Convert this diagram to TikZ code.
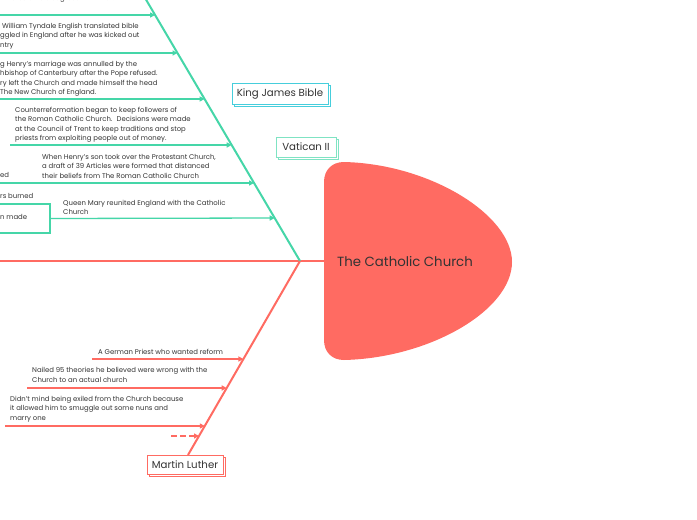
\documentclass[tikz,border=0pt]{standalone}
\usepackage{fontspec}
\setmainfont{Poppins}
\usetikzlibrary{arrows.meta,shadows}
\definecolor{fgreen}{HTML}{45D6A8}
\definecolor{fred}{HTML}{FF6B62}
\definecolor{fcyan}{HTML}{46CEDC}
\definecolor{fmint}{HTML}{7FE3C3}
\definecolor{ftext}{HTML}{333333}
\begin{document}
\begin{tikzpicture}[x=1pt,y=-1pt,
  bone/.style={line width=2pt},
  garrow/.style={line width=1.3pt, draw=fgreen, -{Triangle[length=5pt,width=5pt]}},
  rarrow/.style={line width=1.3pt, draw=fred, -{Triangle[length=5pt,width=5pt]}},
  small/.style={font=\fontsize{6.9}{9.3}\selectfont, text=ftext, align=left, inner sep=0pt, anchor=north west},
  lab/.style={draw=#1, line width=1pt, fill=white, font=\fontsize{10.2}{12}\selectfont, text=ftext, inner sep=0pt,
    copy shadow={shadow xshift=2pt, shadow yshift=-2pt, draw=#1, fill=white, line width=1pt}},
]
\useasboundingbox (0,0) rectangle (697,520);
\clip (0,0) rectangle (697,520);
\fill[white] (0,0) rectangle (697,520);

% head
\fill[fred] (324,182) .. controls (324,170) and (332,162) .. (344,162)
  .. controls (430,164) and (512,215) .. (512,262)
  .. controls (512,310) and (430,358) .. (344,360)
  .. controls (332,360) and (324,352) .. (324,340) -- cycle;
\node[font=\fontsize{13.3}{15}\selectfont, text=ftext, inner sep=0pt] (head) at (405,261) {The Catholic Church};
\coordinate (headw) at (324,261);

% spine and bones
\coordinate (spinel) at (-5,261);
\coordinate (J) at (300,261);
\coordinate (gtop) at (143.3,-5);
\coordinate (rbot) at (188,455);
\draw[bone, fred] (spinel) -- (headw);
\draw[bone, fgreen] (J) -- (gtop);
\draw[bone, fred] (J) -- (rbot);

% green arrows
\coordinate (g1) at (155.1,15);  \coordinate (s1) at (-5,15);
\coordinate (g2) at (177.5,53);  \coordinate (s2) at (-5,53);
\coordinate (g3) at (204.6,99);  \coordinate (s3) at (-5,99);
\coordinate (g4) at (231.7,145); \coordinate (s4) at (10,145);
\coordinate (g5) at (254.1,183); \coordinate (s5) at (-5,183);
\coordinate (g6) at (274.7,218);
\draw[garrow] (s1) -- (g1);
\draw[garrow] (s2) -- (g2);
\draw[garrow] (s3) -- (g3);
\draw[garrow] (s4) -- (g4);
\draw[garrow] (s5) -- (g5);

\node[draw=fgreen, line width=1.3pt, minimum width=70pt, minimum height=29pt, inner sep=0pt] (box6) at (15,218.5) {};
\draw[garrow] (box6.east) -- (g6);

% green texts
\node[small] (t1) at (0,-4.7) {r Protestants disagreed with that.};
\node[small] (t2) at (0,23.1) {~William Tyndale English translated bible\\ggled in England after he was kicked out\\ntry};
\node[small] (t3) at (0,61.1) {g Henry’s marriage was annulled by the\\hbishop of Canterbury after the Pope refused.\\ry left the Church and made himself the head\\The New Church of England.};
\node[small] (t4) at (15,107.1) {Counterreformation began to keep followers of\\the Roman Catholic Church.~ Decisions were made\\at the Council of Trent to keep traditions and stop\\priests from exploiting people out of money.};
\node[small] (t5) at (42,154.1) {When Henry’s son took over the Protestant Church,\\a draft of 39 Articles were formed that distanced\\their beliefs from The Roman Catholic Church};
\node[small] (t5b) at (0,172.1) {ed};
\node[small] (t6) at (0,193.1) {rs burned};
\node[small] (t6b) at (0,214.1) {n made};
\node[small] (t7) at (63,200.1) {Queen Mary reunited England with the Catholic\\Church};

% red arrows
\coordinate (r1) at (243.4,359); \coordinate (q1) at (92,359);
\coordinate (r2) at (226.7,388); \coordinate (q2) at (27,388);
\coordinate (r3) at (204.8,426); \coordinate (q3) at (5,426);
\coordinate (r4) at (199,436);   \coordinate (q4) at (171,436);
\draw[rarrow] (q1) -- (r1);
\draw[rarrow] (q2) -- (r2);
\draw[rarrow] (q3) -- (r3);
\draw[rarrow, dash pattern=on 6pt off 3pt] (q4) -- (r4);

\node[small] (u1) at (98,349.1) {A German Priest who wanted reform};
\node[small] (u2) at (32,367.3) {Nailed 95 theories he believed were wrong with the\\Church to an actual church};
\node[small] (u3) at (10,396.1) {Didn’t mind being exiled from the Church because\\it allowed him to smuggle out some nuns and\\marry one};

% labels
\node[lab=fcyan, minimum width=96pt, minimum height=21pt] (kjb) at (280,93.5) {King James Bible};
\node[lab=fmint, minimum width=60pt, minimum height=20pt] (vat) at (306,147) {Vatican II};
\node[lab=fred, minimum width=76pt, minimum height=19pt] (ml) at (185,464.5) {Martin Luther};
\end{tikzpicture}
\end{document}
